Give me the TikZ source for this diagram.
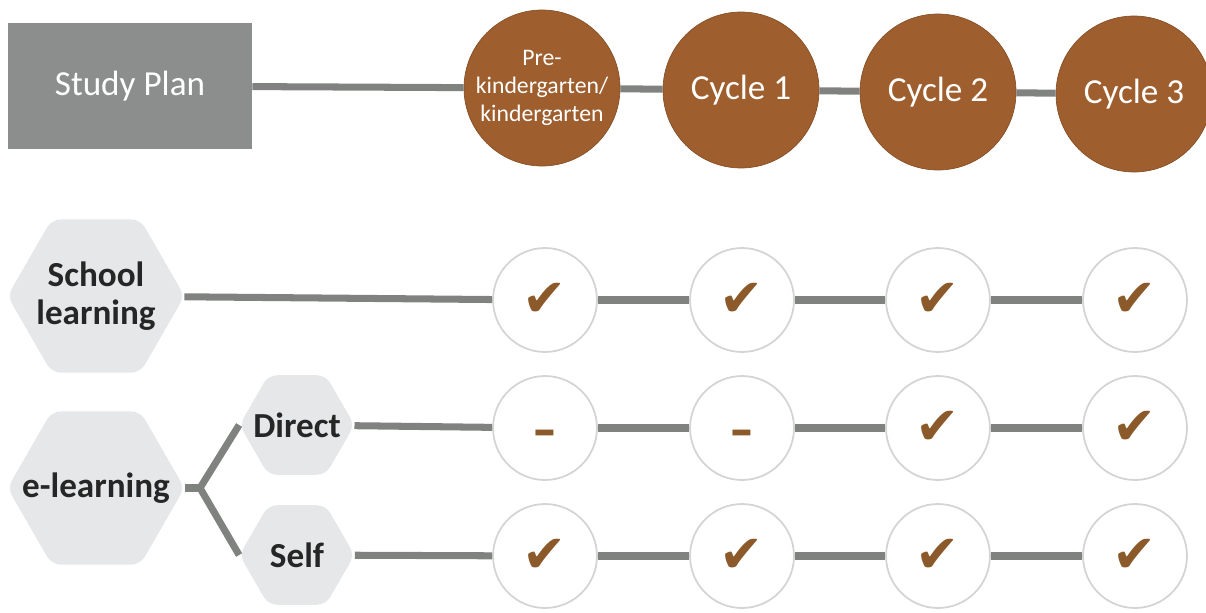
\documentclass[tikz,border=0pt]{standalone}
\usepackage{fontspec}
\setmainfont{Carlito}
\newfontfamily\symfont{DejaVu Sans}
\usetikzlibrary{shapes.geometric, positioning}
\definecolor{planGray}{RGB}{140,142,142}
\definecolor{linkGray}{RGB}{128,130,128}
\definecolor{hexGray}{RGB}{230,231,232}
\definecolor{rimGray}{RGB}{212,212,212}
\definecolor{cycBrown}{RGB}{158,94,46}
\definecolor{tickBrown}{RGB}{140,90,42}

\begin{document}
\begin{tikzpicture}[
  x=0.02cm, y=-0.02cm,
  plan/.style={rectangle, fill=planGray, minimum width=4.88cm, minimum height=2.52cm, text=white, font=\fontsize{20}{24}\selectfont},
  cyc/.style={circle, fill=cycBrown, draw=cycBrown!85!black, line width=0.4pt, minimum size=3.12cm, inner sep=0pt, text=white, align=center, font=\fontsize{20}{24}\selectfont},
  hexa/.style={regular polygon, regular polygon sides=6, fill=hexGray, rounded corners=5pt, inner sep=0pt},
  hextext/.style={align=center, text=black!85, font=\bfseries\fontsize{20}{22}\selectfont},
  bighex/.style={hexa, minimum size=3.54cm},
  smallhex/.style={hexa, minimum size=2.3cm},
  tickbox/.style={circle, draw=rimGray, line width=1pt, fill=white, minimum size=2.08cm, inner sep=0pt, text=tickBrown, font=\symfont\fontsize{30}{30}\selectfont},
  nobox/.style={tickbox, font=\symfont\bfseries\fontsize{26}{26}\selectfont, text height=20pt, text depth=0pt},
  link/.style={draw=linkGray, line width=4pt},
]
\useasboundingbox (0,0) rectangle (1206,612);

\node[plan] (plan) at (130,86)  {Study Plan};
\node[cyc, font=\fontsize{13.5}{16}\selectfont] (prek) at (542,88) {Pre-\\kindergarten/\\kindergarten};
\node[cyc]  (cyc1) at (741,90)  {Cycle 1};
\node[cyc]  (cyc2) at (938,92)  {Cycle 2};
\node[cyc]  (cyc3) at (1134,94) {Cycle 3};

\node[bighex, label={[hextext]center:{School\\learning}}] (school) at (96,296) {};
\node[bighex, label={[hextext]center:e-learning}]         (elearn) at (96,488) {};
\node[smallhex, label={[hextext]center:Direct}]           (direct) at (297,425) {};
\node[smallhex, label={[hextext]center:Self}]             (self)   at (297,555) {};
\coordinate (fork) at (200,488);

\foreach \x/\n in {545/0, 742/1, 938/2, 1135/3} {
  \node[tickbox] (s\n) at (\x,300) {✔};
  \node[tickbox] (f\n) at (\x,556) {✔};
}
\node[nobox]   (d0) at (545,428)  {–};
\node[nobox]   (d1) at (742,428)  {–};
\node[tickbox] (d2) at (938,428)  {✔};
\node[tickbox] (d3) at (1135,428) {✔};

\draw[link] (plan) -- (prek);
\draw[link] (prek) -- (cyc1);
\draw[link] (cyc1) -- (cyc2);
\draw[link] (cyc2) -- (cyc3);

\draw[link] (school) -- (s0);
\draw[link] (elearn) -- (fork);
\draw[link] (fork) -- (direct.west);
\draw[link] (fork) -- (self.west);
\draw[link] (direct) -- (d0);
\draw[link] (self) -- (f0);
\foreach \a/\b in {0/1, 1/2, 2/3} {
  \draw[link] (s\a) -- (s\b);
  \draw[link] (d\a) -- (d\b);
  \draw[link] (f\a) -- (f\b);
}
\end{tikzpicture}
\end{document}
